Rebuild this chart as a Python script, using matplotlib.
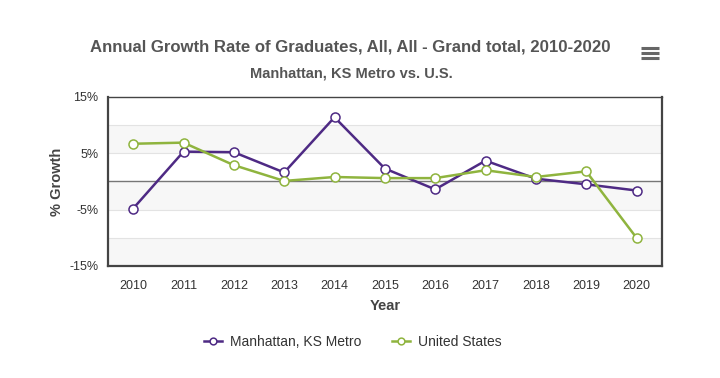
import matplotlib
matplotlib.use("Agg")
from matplotlib import pyplot as plt
from matplotlib.lines import Line2D

plt.rcParams['font.family'] = ['Liberation Sans', 'DejaVu Sans']

years = ['2010', '2011', '2012', '2013', '2014', '2015', '2016', '2017', '2018', '2019', '2020']
manhattan = [-4.8, 5.3, 5.2, 1.6, 11.4, 2.3, -1.4, 3.7, 0.5, -0.5, -1.6]
united_states = [6.7, 6.9, 2.9, 0.1, 0.8, 0.6, 0.6, 2.0, 0.8, 1.8, -10.0]
y_ticks = [15, 5, -5, -15]

purple = '#4e2a84'
green = '#8fb43e'

fig = plt.figure(figsize=(7.2, 3.78), dpi=100)
ax = fig.add_axes([0.15, 0.2963, 0.769, 0.4471])

# светлые полосы через одну
for lo in (5, -5, -15):
    ax.axhspan(lo, lo + 5, color='#f7f7f7', zorder=0, lw=0)
for g in (10, 5, -5, -10):
    ax.axhline(g, color='#e3e3e3', lw=0.8, zorder=1)
ax.axhline(0, color='#777777', lw=1.0, zorder=1)

xs = list(range(len(years)))
ax.plot(xs, manhattan, '-o', color=purple, lw=1.8, ms=6.5,
        mfc='white', mec=purple, mew=1.1, label='Manhattan, KS Metro', zorder=3)
ax.plot(xs, united_states, '-o', color=green, lw=1.8, ms=6.5,
        mfc='white', mec=green, mew=1.1, label='United States', zorder=3)

ax.set_xlim(-0.5, 10.5)
ax.set_ylim(-15, 15)
ax.set_xticks(xs)
ax.set_xticklabels(years)
ax.set_yticks(y_ticks)
ax.set_yticklabels([f'{t}%' for t in y_ticks])
ax.tick_params(length=0, labelsize=9, colors='#333333')
ax.tick_params(axis='x', pad=10)
ax.tick_params(axis='y', pad=7)
for side in ('left', 'bottom', 'top', 'right'):
    ax.spines[side].set_color('#444444')
ax.spines['left'].set_linewidth(1.6)
ax.spines['bottom'].set_linewidth(1.6)
ax.spines['top'].set_linewidth(1.0)
ax.spines['right'].set_linewidth(1.6)

ax.set_xlabel('Year', fontsize=10.5, fontweight='bold', color='#444444', labelpad=5)
ax.set_ylabel('% Growth', fontsize=10.5, fontweight='bold', color='#444444', labelpad=4)

fig.text(0.487, 0.875, 'Annual Growth Rate of Graduates, All, All - Grand total, 2010-2020',
         ha='center', va='center', fontsize=12.1, fontweight='bold', color='#555555')
fig.text(0.488, 0.805, 'Manhattan, KS Metro vs. U.S.',
         ha='center', va='center', fontsize=10.5, fontweight='bold', color='#555555')

# иконка меню
for yy in (0.846, 0.860, 0.874):
    fig.add_artist(Line2D([0.890, 0.915], [yy, yy], color='#666666', lw=2.2,
                          solid_capstyle='butt'))

fig.legend(loc='center', bbox_to_anchor=(0.49, 0.095), ncol=2, frameon=False,
           fontsize=10, labelcolor='#333333', handlelength=1.3, handletextpad=0.6,
           columnspacing=2.2, markerscale=0.75)

fig.savefig('out.png', dpi=100)
